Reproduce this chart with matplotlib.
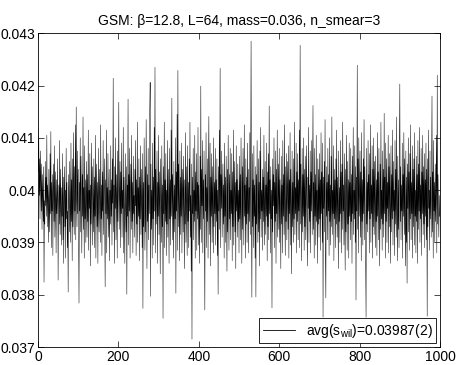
import matplotlib
matplotlib.use("Agg")
import matplotlib.pyplot as plt
import numpy as np

s_wil_e5 = [
    4120, 4035, 4098, 3990, 4060, 3945, 4075, 4010, 3960, 4050, 3925, 4030, 3990, 3940, 4045, 3824, 3980, 3935, 4055, 3970,
    4025, 3950, 4105, 3930, 4010, 3985, 3900, 4040, 3965, 3920, 4070, 3955, 4112, 3890, 4015, 3960, 4030, 3875, 3995, 4050,
    3940, 4085, 3910, 3975, 4035, 3880, 4020, 3955, 3990, 4060, 3828, 3970, 4010, 3935, 4095, 3915, 4040, 3965, 3895, 4005,
    3950, 4070, 3905, 4025, 3860, 3985, 4045, 3930, 4000, 3870, 4080, 3945, 4015, 3890, 3960, 3805, 4030, 3975, 3920, 4055,
    3985, 3900, 4090, 3940, 4020, 3865, 4060, 3930, 4110, 3975, 3915, 4045, 3960, 4125, 3905, 4159, 3990, 3930, 4075, 3955,
    4040, 3895, 3784, 4015, 3960, 4100, 3920, 4065, 3985, 3880, 4030, 3950, 4140, 3925, 4005, 3870, 4085, 3945, 4020, 3900,
    3975, 4055, 3910, 4030, 3940, 4115, 3885, 4000, 3965, 4070, 3855, 4010, 3935, 4090, 3960, 3895, 4045, 3980, 3920, 4060,
    3890, 4025, 3950, 4105, 3870, 3990, 4050, 3930, 4015, 3860, 4080, 3965, 3920, 4040, 3985, 3900, 4125, 3945, 4010, 3875,
    4035, 3960, 4095, 3915, 3990, 4060, 3925, 3815, 4020, 3955, 4115, 3880, 4005, 3945, 4070, 3910, 3980, 4040, 3865, 4000,
    3935, 4085, 3950, 4020, 3895, 4060, 3975, 4214, 3920, 4010, 3860, 4045, 3965, 4100, 3905, 3990, 4030, 3870, 4075, 3940,
    4015, 4168, 3925, 3985, 4055, 3890, 4035, 3955, 4090, 3910, 4000, 3965, 4120, 3880, 4025, 3945, 3860, 4070, 3975, 3920,
    4045, 3801, 4010, 3950, 4174, 3895, 4030, 3960, 4080, 3870, 3995, 4050, 3925, 4105, 3940, 4015, 3880, 4065, 3955, 3990,
    3910, 4040, 3970, 4095, 3875, 4020, 3935, 4130, 3900, 4005, 3950, 4060, 3865, 4025, 3945, 4085, 3915, 3985, 4040, 3890,
    4070, 3774, 4015, 3930, 4100, 3960, 3885, 4045, 3920, 4135, 3975, 3850, 4030, 3940, 4080, 3905, 4010, 3955, 4150, 4206,
    3797, 4050, 3925, 4000, 3870, 4090, 3945, 4025, 3895, 4120, 3960, 4235, 3880, 4040, 3935, 3990, 4075, 3860, 4015, 3950,
    4105, 3915, 4035, 3965, 3840, 4060, 3980, 3900, 4085, 3930, 4010, 3755, 4045, 3955, 4130, 3890, 4020, 3940, 4070, 3875,
    4000, 3935, 4095, 3910, 4040, 3965, 3860, 4080, 3945, 4020, 3895, 4115, 3950, 4176, 3905, 4030, 3975, 3870, 4055, 3920,
    4010, 3945, 4100, 3803, 4035, 3960, 4145, 3885, 4229, 3930, 4050, 3970, 3865, 4075, 3915, 4025, 3950, 4090, 3880, 3995,
    4040, 3920, 4065, 3955, 3850, 4020, 3935, 4110, 3900, 4045, 3965, 3875, 4085, 3940, 4015, 3890, 4060, 3960, 4130, 3910,
    3990, 3845, 4050, 3715, 4025, 3955, 4080, 3905, 4000, 3940, 4105, 3870, 4035, 3960, 4070, 3885, 4015, 3945, 4120, 3895,
    4010, 3950, 3860, 4065, 3925, 4199, 3900, 4040, 3970, 4095, 3880, 4020, 3945, 4075, 3910, 3771, 4030, 3960, 4110, 3890,
    4005, 3940, 4060, 3870, 4035, 4141, 3915, 3985, 4090, 3855, 4025, 3950, 4070, 3900, 4045, 3965, 3880, 4100, 3930, 4015,
    3955, 4080, 3895, 4020, 3940, 4060, 3875, 4000, 3801, 4045, 3960, 4115, 3925, 4233, 3890, 4030, 3965, 4075, 3910, 3985,
    4050, 3935, 4010, 3870, 4090, 3950, 4025, 3900, 4065, 3960, 3845, 4040, 3920, 4105, 3975, 3885, 4030, 3945, 4080, 3905,
    4000, 3955, 4070, 3865, 4035, 3930, 4115, 3895, 3990, 4055, 3920, 4015, 3850, 4085, 3960, 4020, 3910, 4050, 3940, 4000,
    3880, 4065, 3945, 4030, 3905, 4100, 3965, 3860, 4045, 3925, 4080, 3990, 3895, 4125, 3950, 4010, 3870, 4060, 3935, 4025,
    3900, 4090, 3955, 4040, 3880, 4005, 3940, 4110, 3915, 4050, 4285, 3960, 3795, 4070, 3930, 4020, 3890, 4085, 3950, 4010,
    3870, 4045, 3796, 4030, 3935, 4095, 3965, 3900, 4060, 3920, 4015, 3855, 4075, 3945, 4120, 3910, 4000, 3960, 4040, 3885,
    4025, 3940, 4105, 3895, 3980, 4055, 3915, 4010, 3950, 4090, 3865, 4035, 3930, 4070, 3905, 4161, 3955, 4020, 3880, 4045,
    3945, 4000, 3775, 4060, 3920, 4030, 3970, 4100, 3890, 4015, 3940, 4075, 3860, 4040, 3955, 4115, 3910, 3990, 4050, 3925,
    4080, 3900, 4020, 3965, 3850, 4065, 3935, 4010, 3880, 4095, 3950, 4030, 3915, 4125, 3960, 3875, 4045, 3940, 4070, 3905,
    3995, 4055, 3925, 4085, 3870, 4020, 3955, 4110, 3895, 4040, 3965, 3840, 4075, 3930, 4015, 3900, 4060, 3945, 4130, 3915,
    4005, 3955, 4090, 3880, 4035, 3940, 4070, 3905, 4020, 3960, 4115, 3890, 4277, 3935, 4050, 3975, 3865, 4080, 3920, 4030,
    3950, 4100, 3885, 4040, 3930, 4065, 3905, 3995, 4085, 3945, 3855, 4025, 3965, 4120, 3900, 4010, 3940, 4075, 3880, 4035,
    3960, 4095, 3915, 4050, 4162, 3925, 4015, 3870, 4080, 3950, 4030, 3895, 4105, 3940, 4000, 3860, 4060, 3935, 4040, 3910,
    4070, 3945, 4020, 3885, 4110, 3955, 4035, 3900, 4090, 3757, 4025, 3965, 4055, 3920, 4135, 3880, 3794, 4045, 3950, 4015,
    3905, 4080, 3960, 4030, 3875, 4100, 3940, 4010, 3895, 4065, 3930, 4140, 3915, 4000, 3955, 4085, 3865, 4040, 3945, 4020,
    3890, 4060, 3935, 4115, 3910, 4025, 3965, 3850, 4075, 3940, 4005, 3900, 4095, 3955, 4035, 3880, 4050, 3925, 4130, 3960,
    4010, 3895, 4070, 3945, 3847, 4040, 3920, 4105, 3965, 3885, 4055, 3935, 4020, 3870, 4090, 3950, 4015, 3905, 4080, 3940,
    4030, 3860, 4065, 3955, 4120, 3915, 4000, 3945, 4085, 3900, 4045, 3790, 4025, 3960, 4239, 3925, 4060, 3880, 4100, 3950,
    3990, 4075, 3910, 4035, 3865, 4110, 3940, 4020, 3895, 4060, 3955, 4135, 3905, 4045, 3970, 3850, 3757, 4080, 3935, 4015,
    3920, 4095, 3960, 4030, 3880, 4070, 3945, 4125, 3900, 4010, 3955, 4085, 3870, 4040, 3930, 4100, 3915, 4055, 3965, 3890,
    4065, 3940, 4020, 3875, 4110, 3950, 4035, 3905, 4080, 3960, 3855, 4050, 3925, 4130, 3945, 4000, 3885, 4075, 3935, 4040,
    3910, 4147, 3955, 4025, 3870, 4090, 3940, 4060, 3900, 4015, 3965, 4105, 3880, 4045, 3930, 4070, 3950, 3860, 4085, 3920,
    4030, 3945, 4115, 3895, 4055, 3960, 4000, 3875, 4095, 3935, 4040, 3910, 4140, 3955, 3865, 4065, 3925, 4020, 3890, 4080,
    4203, 3940, 4045, 3905, 4010, 3960, 4090, 3870, 4030, 3950, 4110, 3915, 4060, 3935, 3855, 4075, 3900, 4025, 3822, 4050,
    3965, 4100, 3920, 4035, 3885, 4070, 3945, 4125, 3905, 4015, 3955, 4085, 3870, 4040, 3930, 4060, 3895, 4110, 3950, 4000,
    3880, 4065, 3940, 4030, 3860, 4095, 3925, 4050, 3960, 4120, 3900, 4010, 3945, 4080, 3875, 4035, 3955, 4105, 3915, 4045,
    3935, 4070, 3890, 4020, 3950, 4090, 3905, 4040, 3759, 4060, 3930, 4115, 3965, 4000, 3885, 4075, 3945, 4025, 3910, 4055,
    4180, 3920, 4035, 3870, 4095, 3960, 4015, 3900, 4050, 3940, 3995, 4105, 3880, 4220, 3935, 4030, 3965, 3910, 3990, 3950,
]

title = "GSM: \u03b2=12.8, L=64, mass=0.036, n_smear=3"
legend_label = "avg(s$_{\\mathrm{wil}}$)=0.03987(2)"
x_ticks = [0, 200, 400, 600, 800, 1000]
y_ticks = [0.037, 0.038, 0.039, 0.04, 0.041, 0.042, 0.043]


def main():
    plt.rcParams['font.family'] = ['Liberation Sans', 'DejaVu Sans']
    plt.rcParams['mathtext.fontset'] = 'custom'
    plt.rcParams['mathtext.rm'] = 'Liberation Sans'
    plt.rcParams['mathtext.it'] = 'Liberation Sans'

    s_wil = np.array(s_wil_e5) / 1e5
    config = np.arange(len(s_wil))

    fig = plt.figure(figsize=(4.6, 3.65), dpi=100)
    ax = fig.add_axes([0.0826, 0.049, 0.874, 0.860])

    line, = ax.plot(config, s_wil, color='black', linewidth=0.35)

    ax.set_xlim(0, 1000)
    ax.set_ylim(0.037, 0.043)
    ax.set_xticks(x_ticks)
    ax.set_yticks(y_ticks)
    ax.set_yticklabels([f"{v:g}" for v in y_ticks])
    ax.tick_params(direction='in', top=True, right=True, length=4,
                   width=0.5, pad=2, labelsize=10)
    for sp in ax.spines.values():
        sp.set_linewidth(0.6)
        sp.set_color('black')

    ax.set_title(title, fontsize=10, pad=6)

    leg = ax.legend([line], [legend_label], loc='lower right',
                    bbox_to_anchor=(0.99, 0.013), borderaxespad=0,
                    fancybox=False, framealpha=1, edgecolor='black',
                    handlelength=2.3, fontsize=10, borderpad=0.25)
    leg.get_frame().set_linewidth(0.6)
    leg.get_lines()[0].set_linewidth(0.6)

    fig.savefig("out.png", dpi=100)


if __name__ == "__main__":
    main()
